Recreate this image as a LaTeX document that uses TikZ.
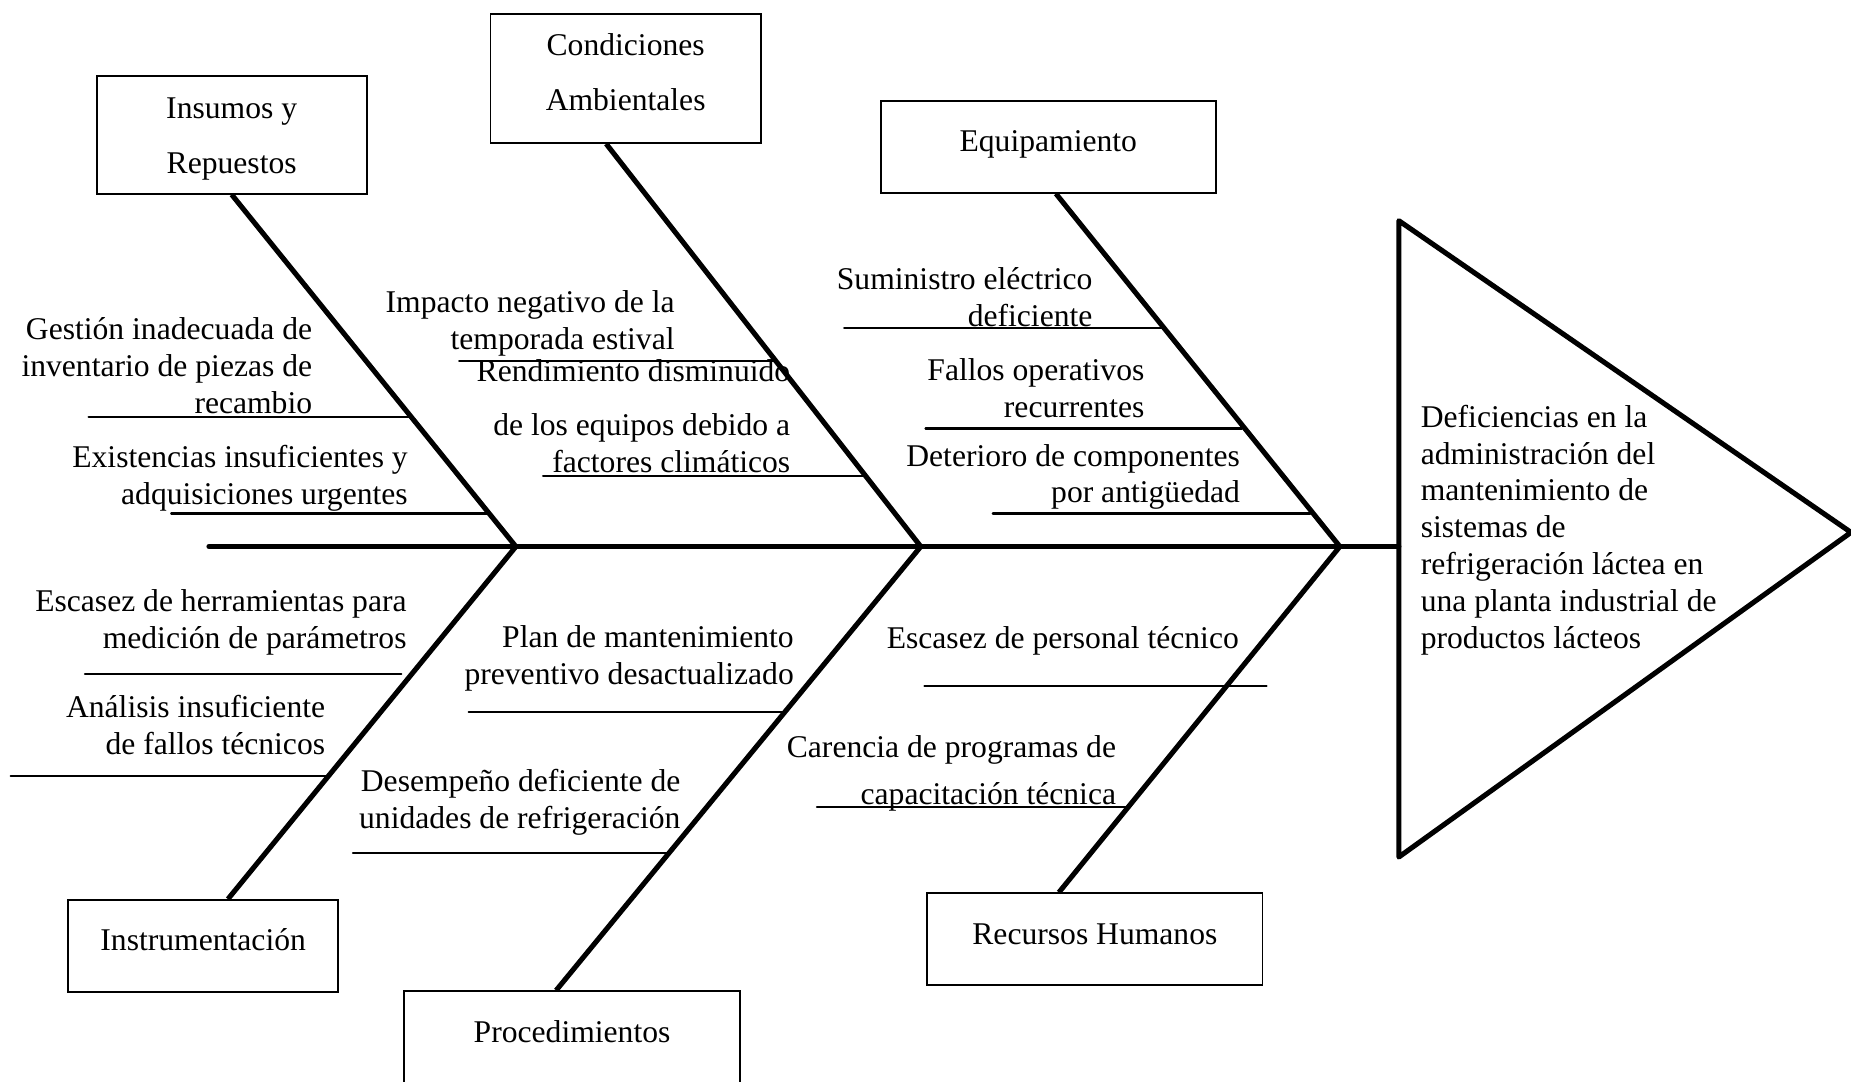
\documentclass[tikz,border=0pt]{standalone}
\usepackage{fontspec}
\setmainfont{Liberation Serif}
\usepackage{tkz-euclide}

\newcommand{\pxu}{0.011805cm}
\tikzset{
  bone/.style={line width=1.45pt},
  twig/.style={line width=0.6pt},
  causebox/.style={draw,line width=0.55pt,inner sep=0pt,align=center},
  onebox/.style={causebox,text height=0.507cm,text depth=0.413cm},
  boxtext/.style={inner sep=0pt,align=center},
  cause/.style={inner sep=0pt,align=right,anchor=east},
}

\begin{document}
\begin{tikzpicture}[x=\pxu,y=-\pxu,font=\fontsize{9}{10.5}\selectfont]
  \useasboundingbox (0,0) rectangle (1568,916);
  \clip (0,0) rectangle (1568,916);

  \tkzDefPoints{177/463/S0,437/463/S1,780/463/S2,1135/463/S3,1185/463/S4,
    1185/187/T1,1185/726/T2,1568/451/T3}
  \tkzDrawSegment[bone](S0,S4)
  \tkzDrawPolygon[bone](T1,T2,T3)

  \node[causebox,minimum width={228.5*\pxu},minimum height={100*\pxu},
    label={[boxtext,name=insumosT,yshift=-4*\pxu]center:{Insumos y\\[5.2pt]Repuestos}}] (insumos) at (196.25,114) {};
  \node[causebox,minimum width={229*\pxu},minimum height={109.5*\pxu},
    label={[boxtext,name=condicionesT,yshift=5*\pxu]center:{Condiciones\\[5.2pt]Ambientales}}] (condiciones) at (530,66.25) {};
  \node[onebox,minimum width={284*\pxu}] (equipamiento) at (888,124.3) {Equipamiento};
  \node[onebox,minimum width={228.6*\pxu}] (instrumentacion) at (172.1,801.4) {Instrumentación};
  \node[onebox,text depth=0.46cm,anchor=north,minimum width={284*\pxu}] (procedimientos) at (484.6,839) {Procedimientos};
  \node[onebox,minimum width={284*\pxu}] (recursos) at (927.5,795.75) {Recursos Humanos};

  \draw[bone] (insumos.south) -- (S1);
  \draw[bone] (condiciones.south) ++(-16.5,0) -- (S2);
  \draw[bone] (equipamiento.south) ++(6.5,0) -- (S3);
  \draw[bone] (S1) -- ([xshift=21*\pxu]instrumentacion.north);
  \draw[bone] (S2) -- ([xshift=-13.5*\pxu]procedimientos.north);
  \draw[bone] (S3) -- ([xshift=-30.5*\pxu]recursos.north);

  \tkzDefPoints{75/353/a1,347/353/b1,145/435/a2,413/435/b2,
    389/306/a3,658/306/b3,460/403/a4,732/403/b4,
    715/278/a5,984/278/b5,784/363/a6,1052/363/b6,841/435/a7,1110/435/b7,
    72/571/a8,340/571/b8,9/657/a9,279/657/b9,
    397/603/a10,664/603/b10,299/722.5/a11,568/722.5/b11,
    783/581.5/a12,1073/581.5/b12,692/684/a13,957/684/b13}
  \tkzDrawSegments[twig](a1,b1 a2,b2 a3,b3 a4,b4 a5,b5 a6,b6 a7,b7 a8,b8 a9,b9 a10,b10 a11,b11 a12,b12 a13,b13)

  \node[cause] (gestion) at (265,310) {Gestión inadecuada de\\inventario de piezas de\\recambio};
  \node[cause] (existencias) at (346,405) {Existencias insuficientes y\\adquisiciones urgentes};
  \node[cause] (impacto) at (572,274) {Impacto negativo de la\\temporada estival};
  \node[cause] (rendimiento) at (670,352.5) {Rendimiento disminuido\\[4.7pt]de los equipos debido a\\factores climáticos};
  \node[cause] (suministro) at (926,251.5) {Suministro eléctrico\\deficiente};
  \node[cause] (fallos) at (970,328.5) {Fallos operativos\\recurrentes};
  \node[cause] (deterioro) at (1051,404) {Deterioro de componentes\\por antigüedad};
  \node[cause] (herramientas) at (345,527) {Escasez de herramientas para\\medición de parámetros};
  \node[cause] (analisis) at (276,614.5) {Análisis insuficiente\\de fallos técnicos};
  \node[cause] (plan) at (673,558) {Plan de mantenimiento\\preventivo desactualizado};
  \node[cause] (desempeno) at (577,680) {Desempeño deficiente de\\unidades de refrigeración};
  \node[cause] (personal) at (1050,543) {Escasez de personal técnico};
  \node[cause] (carencia) at (946,655.5) {Carencia de programas de\\[2.9pt]capacitación técnica};

  \node[inner sep=0pt,align=left,anchor=west] (efecto) at (1203,449) {Deficiencias en la\\administración del\\mantenimiento de\\sistemas de\\refrigeración láctea en\\una planta industrial de\\productos lácteos};
\end{tikzpicture}
\end{document}
